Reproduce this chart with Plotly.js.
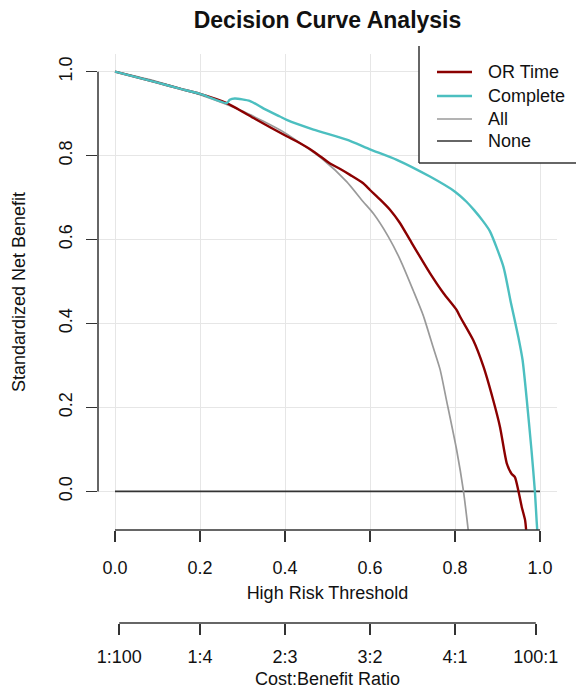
<!DOCTYPE html>
<html>
<head>
<meta charset="utf-8">
<script src="https://cdn.plot.ly/plotly-3.0.1.min.js"></script>
<style>html,body{margin:0;padding:0;background:#fff;}#chart{width:576px;height:695px;}</style>
</head>
<body>
<div id="chart"></div>
<script>
// ---- data ----
const orTimeX = [0, 0.05, 0.1, 0.15, 0.2, 0.263, 0.33, 0.404, 0.427, 0.467, 0.506, 0.53, 0.553, 0.584, 0.6, 0.624, 0.647, 0.67, 0.694, 0.741, 0.773, 0.804, 0.812, 0.843, 0.867, 0.89, 0.906, 0.922, 0.933, 0.941, 0.949, 0.957, 0.965, 0.968];
const orTimeY = [1.0, 0.987, 0.974, 0.96, 0.947, 0.925, 0.887, 0.846, 0.834, 0.81, 0.781, 0.768, 0.754, 0.734, 0.718, 0.695, 0.671, 0.64, 0.599, 0.52, 0.472, 0.432, 0.416, 0.36, 0.297, 0.217, 0.153, 0.066, 0.042, 0.034, 0.002, -0.037, -0.069, -0.1];

const completeX = [0, 0.05, 0.1, 0.15, 0.2, 0.263, 0.27, 0.282, 0.318, 0.35, 0.388, 0.404, 0.467, 0.545, 0.6, 0.663, 0.741, 0.8, 0.827, 0.845, 0.865, 0.882, 0.914, 0.931, 0.949, 0.959, 0.969, 0.98, 0.988, 0.992, 0.994];
const completeY = [1.0, 0.987, 0.974, 0.96, 0.947, 0.925, 0.933, 0.936, 0.93, 0.912, 0.893, 0.885, 0.862, 0.838, 0.815, 0.79, 0.75, 0.714, 0.69, 0.67, 0.645, 0.62, 0.535, 0.452, 0.368, 0.313, 0.217, 0.098, 0.0, -0.069, -0.1];

const allX = [0, 0.1, 0.2, 0.3, 0.4, 0.49, 0.545, 0.584, 0.608, 0.643, 0.672, 0.702, 0.725, 0.749, 0.765, 0.78, 0.804, 0.82, 0.832];
const allY = [1.0, 0.976, 0.945, 0.906, 0.854, 0.79, 0.738, 0.69, 0.662, 0.607, 0.55, 0.478, 0.42, 0.342, 0.29, 0.217, 0.098, 0.0, -0.1];

const noneX = [0, 1];
const noneY = [0, 0];

const seriesNames = ['OR Time', 'Complete', 'All', 'None'];
const xTicks = [0, 0.2, 0.4, 0.6, 0.8, 1.0];
const xTickText = ['0.0', '0.2', '0.4', '0.6', '0.8', '1.0'];
const yTicks = [0, 0.2, 0.4, 0.6, 0.8, 1.0];
const yTickText = ['0.0', '0.2', '0.4', '0.6', '0.8', '1.0'];
const costTicks = [1/101, 0.2, 0.4, 0.6, 0.8, 100/101];
const costTickText = ['1:100', '1:4', '2:3', '3:2', '4:1', '100:1'];

// ---- styles ----
const colors = ['#8B0000', '#4CBFC0', '#9A9A9A', '#333333'];
const widths = [2.4, 2.4, 1.7, 1.6];
const FONT = 'Liberation Sans, Arial, sans-serif';
const W = 576, H = 695;
const mL = 98, mR = 19, mT = 54, mB = 72;
const plotW = W - mL - mR, plotH = H - mT - mB;
const mainBottomPx = 530;
const yDomStart = (H - mB - mainBottomPx) / plotH;
const px2x = p => (p - mL) / plotW;
const px2y = p => (H - mB - p) / plotH;

const traces = [
  {x: noneX, y: noneY, name: seriesNames[3]},
  {x: allX, y: allY, name: seriesNames[2]},
  {x: orTimeX, y: orTimeY, name: seriesNames[0]},
  {x: completeX, y: completeY, name: seriesNames[1]}
].map(t => {
  const i = seriesNames.indexOf(t.name);
  return Object.assign(t, {type: 'scatter', mode: 'lines', xaxis: 'x', yaxis: 'y',
    line: {color: colors[i], width: widths[i], shape: 'spline', smoothing: 0.6}, showlegend: false, hoverinfo: 'skip'});
});
traces.push({type: 'scatter', x: [], y: [], xaxis: 'x2', yaxis: 'y2', showlegend: false, hoverinfo: 'skip'});

const axisCommon = {
  ticks: 'outside', ticklen: 11, tickwidth: 1.5, tickcolor: '#333',
  showline: false, zeroline: false,
  tickfont: {family: FONT, size: 18, color: '#111'}
};

const shapes = [
  // R-style axis lines spanning first..last tick
  {type: 'line', xref: 'x', yref: 'y domain', x0: 0, x1: 1, y0: 0, y1: 0, line: {color: '#333', width: 1.5}},
  {type: 'line', xref: 'x domain', yref: 'y', x0: 0, x1: 0, y0: 0, y1: 1, line: {color: '#333', width: 1.5}},
  {type: 'line', xref: 'x2', yref: 'y2 domain', x0: costTicks[0], x1: costTicks[5], y0: 0, y1: 0, line: {color: '#333', width: 1.5}},
  // legend box
  {type: 'rect', xref: 'paper', yref: 'paper', x0: px2x(419), x1: px2x(580), y0: px2y(163), y1: px2y(46), fillcolor: '#fff', line: {width: 0}, layer: 'above'},
  {type: 'line', xref: 'paper', yref: 'paper', x0: px2x(419), x1: px2x(419), y0: px2y(163), y1: px2y(46), line: {color: '#333', width: 1.5}, layer: 'above'},
  {type: 'line', xref: 'paper', yref: 'paper', x0: px2x(419), x1: px2x(580), y0: px2y(163), y1: px2y(163), line: {color: '#333', width: 1.5}, layer: 'above'}
];
const annotations = [];
const legendRows = [72, 96, 119, 141];
seriesNames.forEach((n, i) => {
  shapes.push({type: 'line', xref: 'paper', yref: 'paper', x0: px2x(437), x1: px2x(472), y0: px2y(legendRows[i]), y1: px2y(legendRows[i]),
    line: {color: colors[i], width: widths[i]}, layer: 'above'});
  annotations.push({xref: 'paper', yref: 'paper', x: px2x(486), y: px2y(legendRows[i]), xanchor: 'left', yanchor: 'middle',
    text: n, showarrow: false, font: {family: FONT, size: 18, color: '#111'}});
});

const layout = {
  width: W, height: H,
  margin: {l: mL, r: mR, t: mT, b: mB, pad: 0},
  paper_bgcolor: '#fff', plot_bgcolor: '#fff',
  font: {family: FONT, size: 18, color: '#111'},
  title: {text: 'Decision Curve Analysis', font: {family: FONT, size: 23, color: '#111', weight: 'bold'},
    x: 0.5, xref: 'paper', xanchor: 'center', y: 1 - 20 / H, yref: 'container', yanchor: 'middle'},
  xaxis: Object.assign({}, axisCommon, {
    domain: [0, 1], anchor: 'y', range: [-0.04, 1.04],
    tickvals: xTicks, ticktext: xTickText, ticklabelstandoff: 10,
    showgrid: true, gridcolor: '#E6E6E6', gridwidth: 1,
    title: {text: 'High Risk Threshold', font: {family: FONT, size: 18, color: '#111'}, standoff: 9}
  }),
  yaxis: Object.assign({}, axisCommon, {
    domain: [yDomStart, 1], anchor: 'x', range: [-0.092, 1.042],
    tickvals: yTicks, ticktext: yTickText, tickangle: -90, ticklabelstandoff: 7,
    showgrid: true, gridcolor: '#E6E6E6', gridwidth: 1,
    title: {text: 'Standardized Net Benefit', font: {family: FONT, size: 18, color: '#111'}, standoff: 25}
  }),
  xaxis2: Object.assign({}, axisCommon, {
    domain: [0, 1], anchor: 'y2', range: [-0.04, 1.04],
    tickvals: costTicks, ticktext: costTickText, showgrid: false, ticklabelstandoff: 6,
    title: {text: 'Cost:Benefit Ratio', font: {family: FONT, size: 18, color: '#111'}, standoff: 6}
  }),
  yaxis2: {domain: [0, 0.005], anchor: 'x2', visible: false, range: [0, 1], showgrid: false, zeroline: false},
  shapes: shapes,
  annotations: annotations,
  showlegend: false
};

Plotly.newPlot('chart', traces, layout, {staticPlot: true, displayModeBar: false});
</script>
</body>
</html>
